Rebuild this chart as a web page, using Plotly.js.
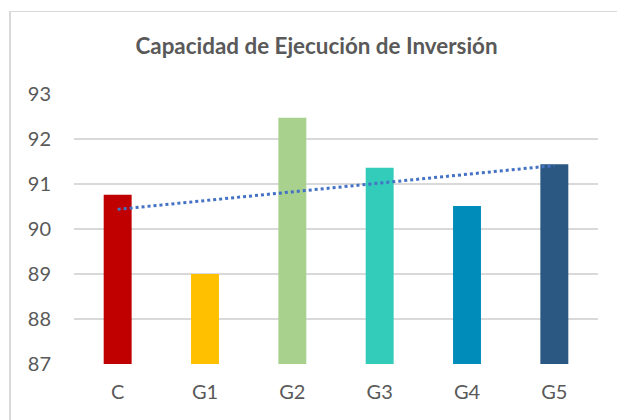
<!DOCTYPE html>
<html>
<head>
<meta charset="utf-8">
<script src="https://cdn.plot.ly/plotly-3.0.1.min.js"></script>
<style>
html,body{margin:0;padding:0;background:#fff;}
#frame{position:absolute;left:9px;top:11px;width:700px;height:500px;border-left:2px solid #d9d9d9;border-top:1.5px solid #d9d9d9;}
#chart{position:absolute;left:0;top:0;width:617px;height:420px;}
</style>
</head>
<body>
<div id="frame"></div>
<div id="chart"></div>
<script>
const categories = ['C', 'G1', 'G2', 'G3', 'G4', 'G5'];
const values = [90.76, 89.0, 92.47, 91.36, 90.51, 91.44];
const barColors = ['#C00000', '#FFC000', '#A9D18E', '#33CCBB', '#008CBA', '#2B5883'];
const yTicks = [87, 88, 89, 90, 91, 92, 93];
const baseline = 87;

// linear trendline (least squares over category index)
const n = values.length;
const xs = values.map((_, i) => i + 1);
const mx = xs.reduce((a, b) => a + b, 0) / n;
const my = values.reduce((a, b) => a + b, 0) / n;
let sxy = 0, sxx = 0;
for (let i = 0; i < n; i++) { sxy += (xs[i] - mx) * (values[i] - my); sxx += (xs[i] - mx) ** 2; }
const slope = sxy / sxx;
const icpt = my - slope * mx;
const trendY = xs.map(x => icpt + slope * x);

const font = 'Lato, "Open Sans", sans-serif';
const data = [
  {type: 'bar', x: categories, y: values.map(v => v - baseline), base: baseline,
   marker: {color: barColors}, width: 0.32, hoverinfo: 'skip'},
  {type: 'scatter', mode: 'lines', x: categories, y: trendY,
   line: {color: '#4472C4', width: 3, dash: 'dot'}, hoverinfo: 'skip'}
];

const layout = {
  width: 617, height: 420,
  margin: {l: 74, r: 19, t: 94, b: 56},
  paper_bgcolor: 'rgba(0,0,0,0)', plot_bgcolor: 'rgba(0,0,0,0)',
  showlegend: false,
  title: {text: '<b>Capacidad de Ejecución de Inversión</b>', font: {family: font, size: 22.4, color: '#595959'},
          x: 0.513, xanchor: 'center', y: 0.89, yanchor: 'middle'},
  xaxis: {type: 'category', showgrid: false, zeroline: false, showline: false,
          tickfont: {family: font, size: 20, color: '#595959'}, ticks: '', ticklabelstandoff: 14},
  yaxis: {range: [87, 93], tickvals: yTicks, ticktext: yTicks.map(String), showgrid: true,
          gridcolor: '#d9d9d9', gridwidth: 1.5, zeroline: false, showline: false,
          tickfont: {family: font, size: 20, color: '#595959'}, ticks: '', ticklabelstandoff: 22},
  bargap: 0.68
};
Plotly.newPlot('chart', data, layout, {staticPlot: true, displayModeBar: false});
</script>
</body>
</html>
